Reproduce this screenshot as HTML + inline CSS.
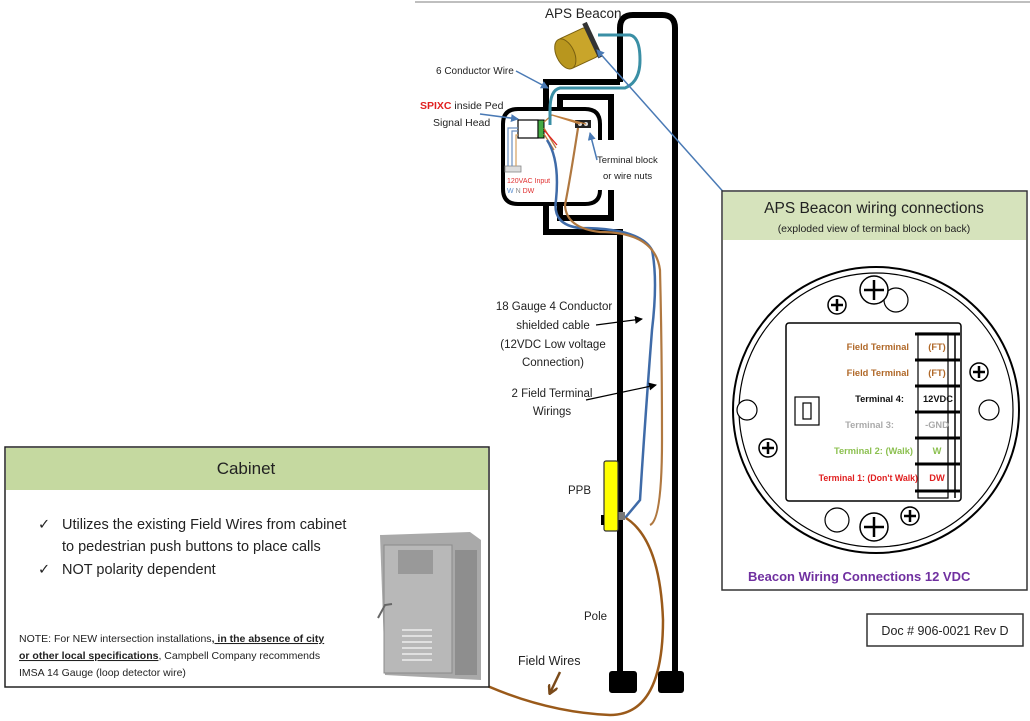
<!DOCTYPE html>
<html><head><meta charset="utf-8"><style>
html,body{margin:0;padding:0;background:#fff;}
svg{display:block;font-family:"Liberation Sans",sans-serif;}
</style></head><body>
<svg width="1030" height="721" viewBox="0 0 1030 721" xmlns="http://www.w3.org/2000/svg">
<defs>
<marker id="ab" markerWidth="8" markerHeight="8" refX="7" refY="4" orient="auto" markerUnits="userSpaceOnUse"><path d="M0,0 L8,4 L0,8 z" fill="#4a7ab5"/></marker>
<marker id="ak" markerWidth="8" markerHeight="8" refX="7" refY="4" orient="auto" markerUnits="userSpaceOnUse"><path d="M0,0 L8,4 L0,8 z" fill="#000"/></marker>
<marker id="abr" markerWidth="10" markerHeight="10" refX="8" refY="5" orient="auto" markerUnits="userSpaceOnUse"><path d="M0,0 L9,5 L0,10" fill="none" stroke="#7a4a1a" stroke-width="2.5"/></marker>
</defs>
<line x1="415" y1="2" x2="1030" y2="2" stroke="#aaa" stroke-width="1.5"/>

<!-- Pole -->
<g fill="none" stroke="#000" stroke-width="6">
<path d="M620,82 L620,28 Q620,15 633,15 L662,15 Q675,15 675,28 L675,680"/>
<path d="M620,82 L546,82 L546,108"/>
<path d="M560,108 L560,97 L611,97 L611,140"/>
<path d="M546,205 L546,232 L620,232 L620,680"/>
<path d="M560,205 L560,218 L611,218 L611,190"/>
</g>
<rect x="609" y="671" width="28" height="22" rx="3" fill="#000"/>
<rect x="658" y="671" width="26" height="22" rx="3" fill="#000"/>

<!-- Ped head -->
<path d="M600,140 L600,124 Q600,109 585,109 L518,109 Q503,109 503,124 L503,189 Q503,204 518,204 L585,204 Q600,204 600,190" fill="#fff" stroke="#000" stroke-width="4"/>
<rect x="518" y="120" width="20" height="18" fill="#fff" stroke="#000" stroke-width="1.2"/>
<rect x="538" y="120" width="6" height="18" fill="#4a4" stroke="#000" stroke-width="1"/>
<rect x="575" y="120" width="16" height="8" fill="#222"/>
<circle cx="580" cy="124" r="2" fill="#ddd"/><circle cx="586" cy="124" r="2" fill="#ddd"/>
<rect x="505" y="166" width="16" height="6" fill="#ddd" stroke="#888" stroke-width="0.8"/>
<path d="M508,166 V128 H518 M512,166 V131 H518" fill="none" stroke="#6a8fc0" stroke-width="1.2"/>
<path d="M516,166 V135 H518" fill="none" stroke="#d4a060" stroke-width="1.2"/>
<text x="507" y="183" font-size="7" fill="#e03030">120VAC Input</text>
<text x="507" y="193" font-size="7" fill="#5a8fd0">W <tspan fill="#888">N</tspan> <tspan fill="#e03030">DW</tspan></text>
<path d="M544,122 L552,115 L580,124 M552,115 L586,124 M544,128 L556,148 M544,134 L554,150" fill="none" stroke="#c08040" stroke-width="1.3"/>
<path d="M544,130 L557,145" stroke="#e02020" stroke-width="1.3"/>

<!-- wires -->
<path d="M598,35 L630,35 Q640,37 640,60 Q640,82 625,88 L560,88 Q550,90 550,110 L550,125" fill="none" stroke="#3a8fa5" stroke-width="3"/>
<path d="M547,140 Q560,160 556,200 Q552,225 580,228 Q640,228 652,250 Q658,280 652,330 Q645,420 640,500 L625,518" fill="none" stroke="#3f6ba8" stroke-width="2.5"/>
<path d="M578,128 Q570,180 565,205 Q566,228 600,232 Q655,232 660,270 Q662,350 662,440 Q662,520 650,525" fill="none" stroke="#b07840" stroke-width="2.2"/>
<path d="M626,518 Q660,540 663,620 Q663,715 610,715 Q540,712 470,678" fill="none" stroke="#9a5a1a" stroke-width="2.5"/>
<rect x="617" y="512" width="8" height="8" fill="#777"/>

<!-- PPB -->
<rect x="604" y="461" width="14" height="70" rx="2" fill="#ffff00" stroke="#333" stroke-width="1.2"/>
<rect x="601" y="515" width="3" height="10" fill="#000"/>

<!-- beacon -->
<g transform="rotate(-25 578 48)">
<rect x="562" y="32" width="32" height="32" rx="4" fill="#c9a52a" stroke="#7a6010" stroke-width="1"/>
<ellipse cx="564" cy="48" rx="9" ry="16" fill="#b8961e" stroke="#7a6010"/>
<rect x="592" y="28" width="5" height="38" fill="#333"/>
</g>

<!-- labels top -->
<text x="545" y="18" font-size="13.5" fill="#222">APS Beacon</text>
<text x="436" y="74" font-size="10" fill="#222">6 Conductor Wire</text>
<line x1="516" y1="71" x2="548" y2="88" stroke="#4a7ab5" stroke-width="1.5" marker-end="url(#ab)"/>
<text x="420" y="109" font-size="10.5" fill="#222"><tspan fill="#e02020" font-weight="bold">SPIXC</tspan> inside Ped</text>
<text x="433" y="126" font-size="10.5" fill="#222">Signal Head</text>
<line x1="480" y1="114" x2="518" y2="119" stroke="#4a7ab5" stroke-width="1.5" marker-end="url(#ab)"/>
<text x="597" y="163" font-size="9.5" fill="#222">Terminal block</text>
<text x="603" y="179" font-size="9.5" fill="#222">or wire nuts</text>
<line x1="597" y1="160" x2="590" y2="133" stroke="#4a7ab5" stroke-width="1.5" marker-end="url(#ab)"/>
<line x1="727" y1="196" x2="597" y2="50" stroke="#4a7ab5" stroke-width="1.5" marker-end="url(#ab)"/>

<!-- middle labels -->
<g font-size="11.5" fill="#222" text-anchor="middle">
<text x="554" y="310">18 Gauge 4 Conductor</text>
<text x="553" y="329">shielded cable</text>
<text x="553" y="348">(12VDC Low voltage</text>
<text x="553" y="366">Connection)</text>
<text x="552" y="397">2 Field Terminal</text>
<text x="552" y="415">Wirings</text>
</g>
<line x1="596" y1="325" x2="642" y2="319" stroke="#000" stroke-width="1.2" marker-end="url(#ak)"/>
<line x1="586" y1="400" x2="656" y2="385" stroke="#000" stroke-width="1.2" marker-end="url(#ak)"/>
<text x="568" y="494" font-size="11.5" fill="#222">PPB</text>
<text x="584" y="620" font-size="11.5" fill="#222">Pole</text>
<text x="518" y="665" font-size="12.5" fill="#222">Field Wires</text>
<line x1="560" y1="672" x2="550" y2="693" stroke="#7a4a1a" stroke-width="2.5" marker-end="url(#abr)"/>

<!-- Right panel -->
<rect x="722" y="191" width="305" height="399" fill="#fff" stroke="#333" stroke-width="1.5"/>
<rect x="723" y="192" width="303" height="48" fill="#d6e3bc"/>
<text x="874" y="213" font-size="15.5" fill="#222" text-anchor="middle">APS Beacon wiring connections</text>
<text x="874" y="232" font-size="10.5" fill="#222" text-anchor="middle">(exploded view of terminal block on back)</text>
<circle cx="876" cy="410" r="143" fill="none" stroke="#000" stroke-width="2"/>
<circle cx="876" cy="410" r="137" fill="none" stroke="#000" stroke-width="1.2"/>
<circle cx="747" cy="410" r="10" fill="#fff" stroke="#000" stroke-width="1.2"/>
<circle cx="989" cy="410" r="10" fill="#fff" stroke="#000" stroke-width="1.2"/>
<circle cx="896" cy="300" r="12" fill="#fff" stroke="#000" stroke-width="1.2"/>
<circle cx="837" cy="520" r="12" fill="#fff" stroke="#000" stroke-width="1.2"/>
<g fill="#fff" stroke="#000" stroke-width="1.5">
<circle cx="874" cy="290" r="14"/><circle cx="874" cy="527" r="14"/>
<circle cx="837" cy="305" r="9"/><circle cx="910" cy="516" r="9"/>
<circle cx="979" cy="372" r="9"/><circle cx="768" cy="448" r="9"/>
<circle cx="800" cy="485" r="7"/>
</g>
<g stroke="#000" stroke-width="2.5">
<path d="M874,280 V300 M864,290 H884 M874,517 V537 M864,527 H884 M837,299 V311 M831,305 H843 M910,510 V522 M904,516 H916 M979,366 V378 M973,372 H985 M768,442 V454 M762,448 H774 M800,480 V490 M795,485 H805"/>
</g>
<rect x="786" y="323" width="175" height="178" rx="3" fill="#fff" stroke="#000" stroke-width="1.5"/>
<rect x="795" y="397" width="24" height="28" fill="#fff" stroke="#000" stroke-width="1.2"/>
<rect x="803" y="403" width="8" height="16" fill="#fff" stroke="#000" stroke-width="1.2"/>
<rect x="918" y="333" width="30" height="165" fill="#fff" stroke="#000" stroke-width="1.2"/>
<line x1="955" y1="333" x2="955" y2="498" stroke="#000" stroke-width="1.5"/>
<g stroke="#000" stroke-width="3">
<line x1="915" y1="334" x2="960" y2="334"/><line x1="915" y1="360" x2="960" y2="360"/>
<line x1="915" y1="386" x2="960" y2="386"/><line x1="915" y1="412" x2="960" y2="412"/>
<line x1="915" y1="438" x2="960" y2="438"/><line x1="915" y1="464" x2="960" y2="464"/>
<line x1="915" y1="491" x2="960" y2="491"/>
</g>
<g font-size="9.3" font-weight="bold">
<text x="909" y="350" text-anchor="end" fill="#b06828">Field Terminal</text>
<text x="937" y="350" text-anchor="middle" fill="#b06828">(FT)</text>
<text x="909" y="376" text-anchor="end" fill="#b06828">Field Terminal</text>
<text x="937" y="376" text-anchor="middle" fill="#b06828">(FT)</text>
<text x="904" y="402" text-anchor="end" fill="#111">Terminal 4:</text>
<text x="938" y="402" text-anchor="middle" fill="#111">12VDC</text>
<text x="894" y="428" text-anchor="end" fill="#aaa">Terminal 3:</text>
<text x="937" y="428" text-anchor="middle" fill="#aaa">-GND</text>
<text x="913" y="454" text-anchor="end" fill="#8cc050">Terminal 2: (Walk)</text>
<text x="937" y="454" text-anchor="middle" fill="#8cc050">W</text>
<text x="918" y="481" text-anchor="end" fill="#e02020" font-size="8.8">Terminal 1: (Don't Walk)</text>
<text x="937" y="481" text-anchor="middle" fill="#e02020">DW</text>
</g>
<text x="748" y="581" font-size="13" font-weight="bold" fill="#7030a0">Beacon Wiring Connections 12 VDC</text>

<rect x="867" y="614" width="156" height="32" fill="#fff" stroke="#333" stroke-width="1.5"/>
<text x="945" y="635" font-size="12.5" fill="#222" text-anchor="middle">Doc # 906-0021 Rev D</text>

<!-- Cabinet panel -->
<rect x="5" y="447" width="484" height="240" fill="#fff" stroke="#222" stroke-width="1.5"/>
<rect x="6" y="448" width="482" height="42" fill="#c5d9a0"/>
<text x="246" y="474" font-size="17" fill="#222" text-anchor="middle">Cabinet</text>
<g font-size="14.5" fill="#222">
<text x="38" y="529">✓</text><text x="62" y="529">Utilizes the existing Field Wires from cabinet</text>
<text x="62" y="551">to pedestrian push buttons to place calls</text>
<text x="38" y="574">✓</text><text x="62" y="574">NOT polarity dependent</text>
</g>
<g font-size="10.5" fill="#222">
<text x="19" y="642">NOTE: For NEW intersection installations<tspan font-weight="bold" text-decoration="underline">, in the absence of city</tspan></text>
<text x="19" y="659"><tspan font-weight="bold" text-decoration="underline">or other local specifications</tspan>, Campbell Company recommends</text>
<text x="19" y="676">IMSA 14 Gauge (loop detector wire)</text>
</g>
<!-- cabinet image -->
<path d="M380,535 L470,532 L481,540 L481,680 L385,675 Z" fill="#a9a9a9"/>
<rect x="384" y="545" width="68" height="128" fill="#b8b8b8" stroke="#8a8a8a"/>
<rect x="398" y="550" width="35" height="24" fill="#999"/>
<rect x="455" y="550" width="22" height="125" fill="#8e8e8e"/>
<g stroke="#eee" stroke-width="1.5"><line x1="402" y1="630" x2="432" y2="630"/><line x1="402" y1="636" x2="432" y2="636"/><line x1="402" y1="642" x2="432" y2="642"/><line x1="402" y1="648" x2="432" y2="648"/><line x1="402" y1="654" x2="432" y2="654"/><line x1="402" y1="660" x2="432" y2="660"/></g>
<path d="M378,618 L385,605 L392,604" fill="none" stroke="#666" stroke-width="2"/>
</svg>
</body></html>
